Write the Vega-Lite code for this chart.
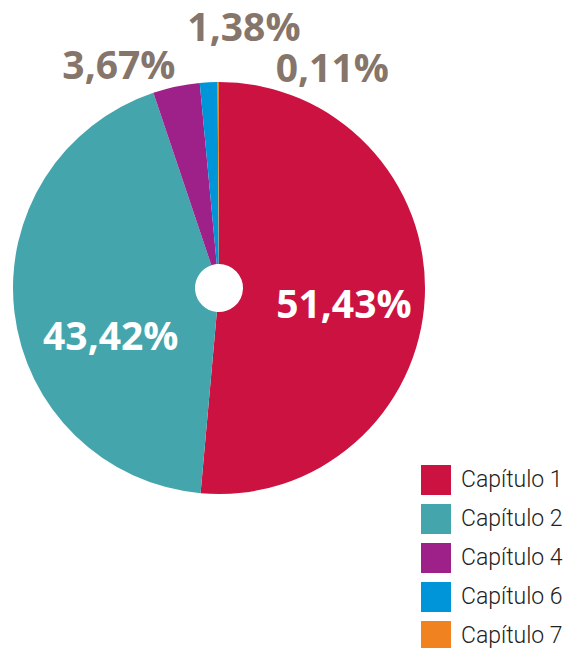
{
  "$schema": "https://vega.github.io/schema/vega-lite/v6.json",
  "width": 438,
  "height": 576,
  "padding": 0,
  "background": "white",
  "config": {"view": {"stroke": null}},
  "data": {"values": [
    {"capitulo": "Capítulo 1", "value": 51.43, "label": "51,43%", "order": 1},
    {"capitulo": "Capítulo 2", "value": 43.42, "label": "43,42%", "order": 2},
    {"capitulo": "Capítulo 4", "value": 3.67, "label": "3,67%", "order": 3},
    {"capitulo": "Capítulo 6", "value": 1.38, "label": "1,38%", "order": 4},
    {"capitulo": "Capítulo 7", "value": 0.11, "label": "0,11%", "order": 5}
  ]},
  "encoding": {
    "theta": {"field": "value", "type": "quantitative", "stack": true},
    "order": {"field": "order", "type": "quantitative"}
  },
  "layer": [
    {
      "mark": {"type": "arc", "radius": 206, "radius2": 24},
      "encoding": {
        "color": {
          "field": "capitulo", "type": "nominal",
          "scale": {"domain": ["Capítulo 1", "Capítulo 2", "Capítulo 4", "Capítulo 6", "Capítulo 7"],
                    "range": ["#cc1241", "#45a5ad", "#9e2189", "#0095d8", "#f08220"]},
          "legend": {
            "title": null, "orient": "none", "legendX": 421, "legendY": 465,
            "symbolType": "square", "symbolSize": 900, "symbolStrokeWidth": 0,
            "symbolOpacity": 1,
            "labelFont": "Roboto", "labelFontSize": 23, "labelFontWeight": 300, "labelColor": "#222222",
            "labelOffset": 10, "rowPadding": 9, "padding": 0
          }
        }
      }
    },
    {
      "mark": {"type": "text", "clip": true, "radius": 126, "dx": -1, "dy": 12, "font": "Open Sans", "fontWeight": "bold", "fontSize": 39, "color": "white", "baseline": "middle", "align": "center"},
      "encoding": {"text": {"condition": {"test": "datum.capitulo === 'Capítulo 1'", "field": "label"}, "value": ""}}
    },
    {
      "mark": {"type": "text", "clip": true, "radius": 110, "dx": 1, "dy": 37, "font": "Open Sans", "fontWeight": "bold", "fontSize": 39, "color": "white", "baseline": "middle", "align": "center"},
      "encoding": {"text": {"condition": {"test": "datum.capitulo === 'Capítulo 2'", "field": "label"}, "value": ""}}
    },
    {
      "mark": {"type": "text", "clip": true, "radius": 227, "dx": -53, "dy": 1, "font": "Open Sans", "fontWeight": "bold", "fontSize": 39, "color": "#86756a", "baseline": "middle", "align": "center"},
      "encoding": {"text": {"condition": {"test": "datum.capitulo === 'Capítulo 4'", "field": "label"}, "value": ""}}
    },
    {
      "mark": {"type": "text", "clip": true, "radius": 260, "dx": 38, "dy": 1, "font": "Open Sans", "fontWeight": "bold", "fontSize": 39, "color": "#86756a", "baseline": "middle", "align": "center"},
      "encoding": {"text": {"condition": {"test": "datum.capitulo === 'Capítulo 6'", "field": "label"}, "value": ""}}
    },
    {
      "mark": {"type": "text", "clip": true, "radius": 219, "dx": 114, "dy": 1, "font": "Open Sans", "fontWeight": "bold", "fontSize": 39, "color": "#86756a", "baseline": "middle", "align": "center"},
      "encoding": {"text": {"condition": {"test": "datum.capitulo === 'Capítulo 7'", "field": "label"}, "value": ""}}
    }
  ]
}
